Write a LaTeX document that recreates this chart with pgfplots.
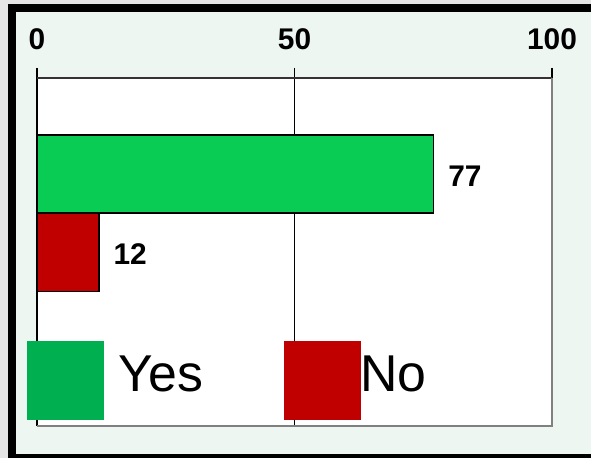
\documentclass[border=0pt]{standalone}
\usepackage{pgfplots}
\pgfplotsset{compat=1.18}
\usepackage{fontspec}
\setmainfont{Liberation Sans}
\definecolor{bargreen}{RGB}{8,204,84}
\definecolor{legreen}{RGB}{0,176,80}
\definecolor{barred}{RGB}{192,0,0}
\definecolor{panel}{RGB}{237,246,241}
\definecolor{outergray}{RGB}{229,229,229}
\begin{document}
\begin{tikzpicture}[x=1bp,y=1bp]
\useasboundingbox (0,0) rectangle (591,458);
\fill[outergray] (0,0) rectangle (591,458);
\fill[black] (8,-10) rectangle (591,454);
\fill[panel] (16,4) rectangle (591,446);
\begin{axis}[
  at={(37bp,32bp)}, anchor=south west,
  scale only axis, width=515bp, height=348bp,
  xmin=0, xmax=100, ymin=0, ymax=348,
  clip=false,
  /pgf/number format/assume math mode=true,
  axis background/.style={fill=white},
  axis line style={draw=none},
  xtick={0,50,100}, ytick=\empty,
  xtick pos=upper, xticklabel pos=upper,
  tick align=outside, major tick length=10bp,
  major tick style={black, line width=1.3bp},
  xmajorgrids, grid style={black, line width=1.3bp},
  xticklabel style={font=\fontsize{30}{30}\selectfont\bfseries, inner sep=0pt, yshift=18bp},
  legend style={at={(-0.01942,0.24425)}, anchor=north west, draw=none, fill=none,
    inner sep=0pt, outer sep=0pt, column sep=0pt, row sep=0pt,
    font=\fontsize{52}{52}\selectfont,
    nodes={inner sep=0pt, outer sep=0pt}},
  legend columns=2, legend cell align=left,
]
\addplot[xbar, bar width=78bp, bar shift=0pt, fill=bargreen, draw=black, line width=1.5bp,
  point meta=x, nodes near coords,
  nodes near coords style={font=\fontsize{30}{30}\selectfont\bfseries, anchor=west, inner sep=0pt, xshift=14bp, yshift=-2bp, black},
  forget plot] coordinates {(77,252)};
\addplot[xbar, bar width=78bp, bar shift=0pt, fill=barred, draw=black, line width=1.5bp,
  point meta=x, nodes near coords,
  nodes near coords style={font=\fontsize{30}{30}\selectfont\bfseries, anchor=west, inner sep=0pt, xshift=14bp, yshift=-2bp, black},
  forget plot] coordinates {(12,173.5)};
\draw[black, line width=1.5bp] (rel axis cs:0,0) -- (rel axis cs:0,1);
\draw[black!80, line width=1.5bp] (rel axis cs:0,1) -- (rel axis cs:1,1);
\draw[gray, line width=1.5bp] (rel axis cs:1,1) -- (rel axis cs:1,0) -- (rel axis cs:0,0);
\addlegendimage{legend image code/.code={\fill[legreen] (0bp,-45bp) rectangle (76bp,33bp); \path (91bp,0bp);}}
\addlegendentry{Yes}
\addlegendimage{legend image code/.code={\path (-81bp,0bp); \fill[barred] (0bp,-45bp) rectangle (76bp,33bp);}}
\addlegendentry{No}
\end{axis}
\end{tikzpicture}
\end{document}
